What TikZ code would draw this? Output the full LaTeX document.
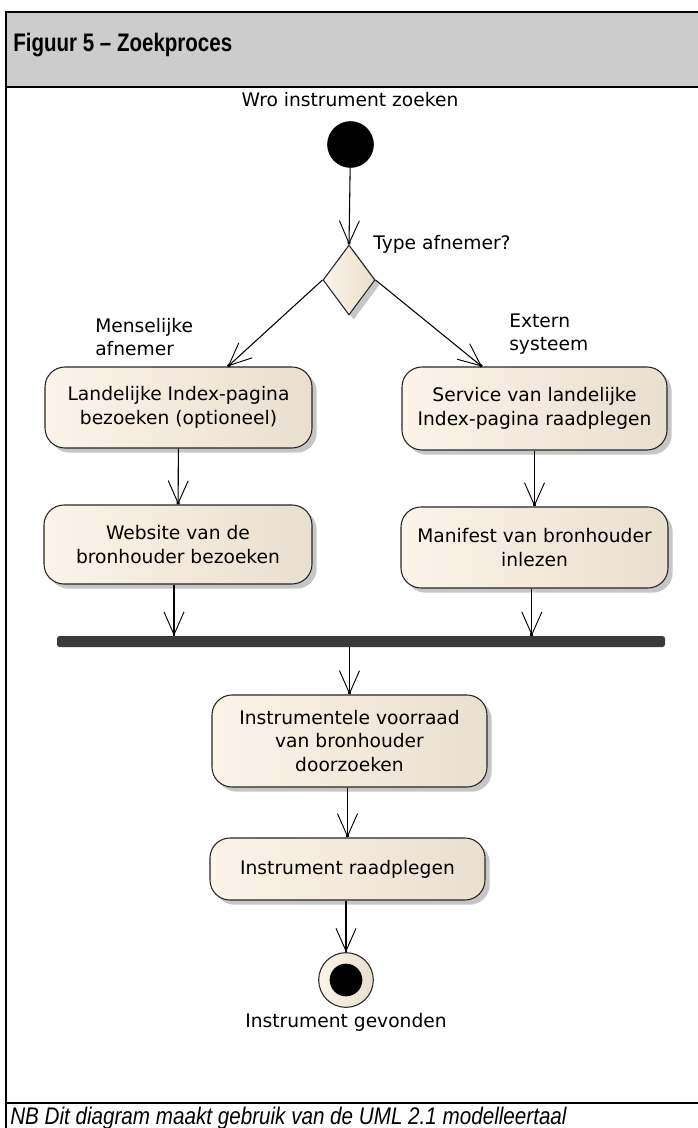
\documentclass[tikz,border=0pt]{standalone}
\usepackage{fontspec}
\setmainfont{Liberation Sans}
\newfontfamily\umlfont{DejaVu Sans}
\newfontfamily\titlefont[FakeStretch=0.81]{Liberation Sans}
\newfontfamily\notefont[FakeStretch=0.86]{Liberation Sans}
\usetikzlibrary{arrows.meta,shapes.geometric,shadows,calc}

\definecolor{hdrgray}{HTML}{CCCCCC}
\definecolor{actleft}{HTML}{FCF4E9}
\definecolor{actright}{HTML}{E9DFCF}
\definecolor{shadowgray}{HTML}{C6C6C6}
\definecolor{barcolor}{HTML}{3A3A3A}

\begin{document}
\begin{tikzpicture}[x=0.75pt,y=-0.75pt,
  umltext/.style={font=\umlfont\fontsize{14}{17.5}\selectfont},
  act/.style={umltext, draw=black!85, line width=0.8pt, rounded corners=15pt,
    left color=actleft, right color=actright, align=center, inner sep=0pt,
    drop shadow={shadow xshift=3.5pt, shadow yshift=-3.5pt, fill=shadowgray, opacity=1}},
  decision/.style={diamond, draw=black!85, line width=0.8pt, inner sep=0pt,
    left color=actleft, right color=actright,
    minimum width=39pt, minimum height=52.5pt,
    drop shadow={shadow xshift=3.5pt, shadow yshift=-3.5pt, fill=shadowgray, opacity=1}},
  flow/.style={draw=black, line width=0.8pt,
    -{Straight Barb[length=17pt,width=15pt,line width=0.7pt,sep=-2.2pt]Square[length=2.2pt,width=2.2pt]}},
  frameline/.style={line width=1.5pt, draw=black}
]
\useasboundingbox (0,0) rectangle (698,1128);

% figure frame with header and caption rule
\fill[hdrgray] (5.5,12) rectangle (698,87);
\draw[frameline] (5.5,1128) -- (5.5,12) -- (698,12);
\draw[frameline] (5.5,87) -- (698,87);
\draw[frameline] (5.5,1103) -- (698,1103);
\node[anchor=base west, inner sep=0pt, font=\titlefont\bfseries\fontsize{19}{22}\selectfont] (title) at (13,51) {Figuur 5 – Zoekproces};
\node[anchor=base west, inner sep=0pt, font=\notefont\itshape\fontsize{18}{21}\selectfont] (caption) at (10,1124) {NB Dit diagram maakt gebruik van de UML 2.1 modelleertaal};

% initial node
\node[umltext, inner sep=0pt] (startlbl) at (350,100) {Wro instrument zoeken};
\node[circle, fill=black, draw=black, minimum size=34.5pt, inner sep=0pt] (start) at (350.5,144.5) {};

% decision
\node[decision] (dec) at (349,280) {};
\node[umltext, anchor=west, inner sep=0pt] (declbl) at (373,244) {Type afnemer?};

% actions
\node[act, minimum width=200.25pt, minimum height=60.75pt] (b1) at (178.5,407.5) {Landelijke Index-pagina\\bezoeken (optioneel)};
\node[act, minimum width=201pt, minimum height=59.25pt] (b2) at (178,544.5) {Website van de\\bronhouder bezoeken};
\node[act, minimum width=198.75pt, minimum height=62.25pt] (r1) at (534.5,408.5) {Service van landelijke\\Index-pagina raadplegen};
\node[act, minimum width=200.25pt, minimum height=60.75pt] (r2) at (534.5,547.5) {Manifest van bronhouder\\inlezen};

% guard labels
\node[umltext, anchor=west, align=left, inner sep=0pt] (glabel) at (95,337) {Menselijke\\afnemer};
\node[umltext, anchor=west, align=left, inner sep=0pt] (glabel2) at (509,334) {Extern\\systeem};

% join bar
\node[fill=barcolor, rounded corners=2pt, minimum width=456pt, minimum height=8.25pt, inner sep=0pt] (bar) at (361,641.5) {};

\node[act, minimum width=206.25pt, minimum height=69pt] (b3) at (349.5,741) {Instrumentele voorraad\\van bronhouder\\doorzoeken};
\node[act, minimum width=206.25pt, minimum height=46.5pt] (b4) at (347.5,869) {Instrument raadplegen};

% final node
\node[circle, draw=black!85, line width=0.8pt, left color=actleft, right color=actright, minimum size=41pt, inner sep=0pt] (end) at (346,980) {};
\node[circle, fill=black, minimum size=24.5pt, inner sep=0pt] (endin) at (end) {};
\node[umltext, inner sep=0pt] (endlbl) at (346,1022) {Instrument gevonden};

% control flows
\draw[flow] (start) -- (dec.north);
\draw[flow] (dec.west) -- ([xshift=37pt]b1.north);
\draw[flow] (dec.east) -- ([xshift=-39.5pt]r1.north);
\draw[flow] (b1) -- (b2);
\draw[flow] (r1) -- (r2);
\draw[flow] ([xshift=-3pt]b2.south) -- ([xshift=-3pt]b2.south |- bar.north);
\draw[flow] ([xshift=-2pt]r2.south) -- ([xshift=-2pt]r2.south |- bar.north);
\draw[flow] (bar.south -| b3.north) -- (b3.north);
\draw[flow] (b3.south -| b4.north) -- (b4.north);
\draw[flow] (b4.south -| end.north) -- (end.north);
\end{tikzpicture}
\end{document}
